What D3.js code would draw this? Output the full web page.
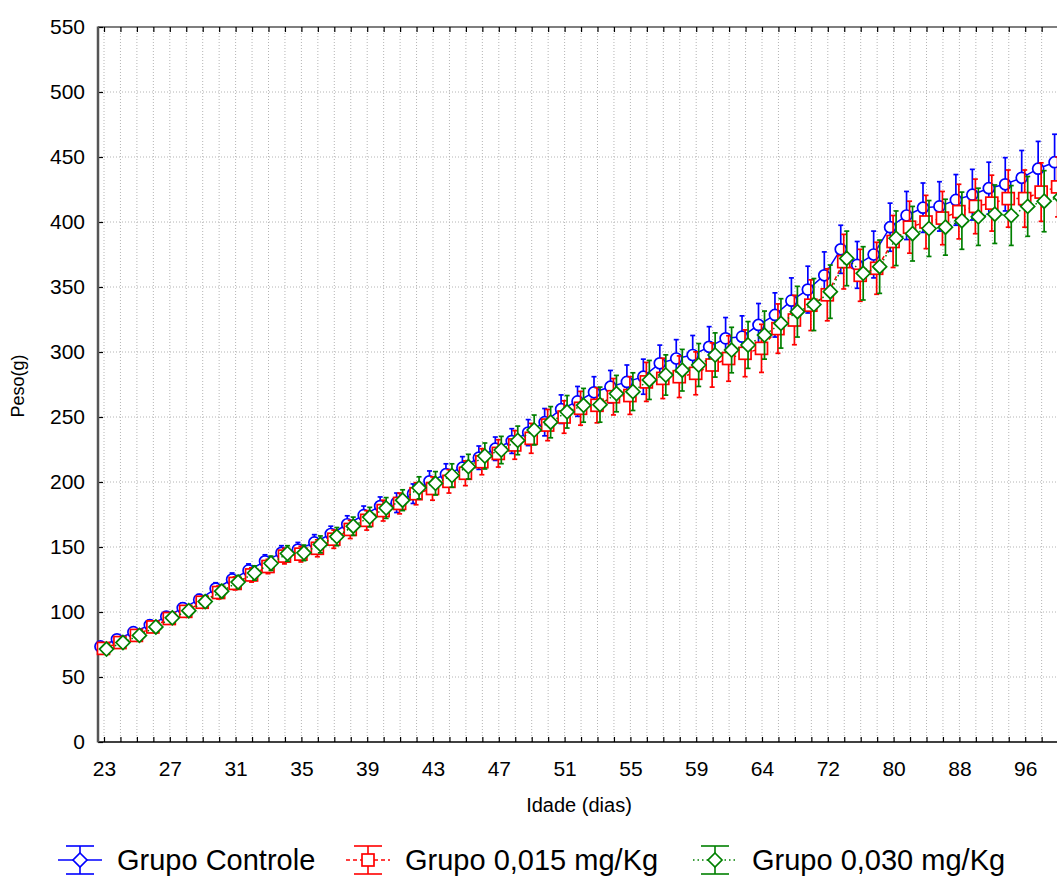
<!DOCTYPE html>
<html>
<head>
<meta charset="utf-8">
<script src="https://cdn.jsdelivr.net/npm/d3@7"></script>
<style>
  body { margin: 0; background: #fff; overflow: hidden; }
  svg { font-family: "Liberation Sans", Arial, sans-serif; }
  .grid line { stroke: #b4b4b4; stroke-width: 1; stroke-dasharray: 1,2; }
  .axis path { display: none; }
  .axis line { stroke: #000; stroke-width: 1.2; }
  .axis text { font-size: 21px; fill: #000; }
</style>
</head>
<body>
<svg id="chart" width="1057" height="879"></svg>
<script>
// idade (dias) - categorias do eixo x
var dias = [23, 24, 25, 26, 27, 28, 29, 30, 31, 32, 33, 34, 35, 36, 37, 38, 39, 40, 41, 42,
  43, 44, 45, 46, 47, 48, 49, 50, 51, 52, 53, 54, 55, 56, 57, 58, 59, 60, 61, 62,
  64, 66, 68, 70, 72, 74, 76, 78, 80, 82, 84, 86, 88, 90, 92, 94, 96, 98, 100];

// medias de peso (g)
var controle = [73.5, 79, 84.5, 90, 96.5, 103, 109.5, 118, 125, 132, 139, 145.5, 148, 153.5, 160, 167.5, 174.5, 181.5, 184, 191,
  200.5, 206, 211, 218.7, 225.6, 231.5, 238, 246, 256, 262, 269, 273.3, 277, 281, 291.3, 295, 297.7, 304, 310.5, 311.8,
  320.8, 328.5, 339.5, 348, 359, 379, 367, 375, 396, 405, 411, 412, 417, 421, 426, 429, 434, 441, 446];
var grupo015 = [72, 76.5, 82, 88.5, 95, 100.5, 107.5, 115, 122, 128.5, 135, 143, 144.5, 149, 156, 163.5, 170.5, 178, 183.5, 191,
  195, 200.5, 206.7, 215.6, 222, 228.5, 233.6, 243.8, 250, 256.7, 259, 265.6, 266.5, 277, 279.7, 281, 283.6, 290, 295, 299,
  302.8, 318, 324.6, 336, 344, 369.5, 359, 364.4, 385, 396, 400, 403, 408, 412, 414.5, 418, 418, 423, 427];
var grupo030 = [71.5, 76.5, 82, 88.5, 95.5, 101, 108, 116, 123, 130, 137.5, 145, 145.5, 152, 158, 166, 173, 180, 186, 195.5,
  199, 205, 211.8, 220, 224.6, 232, 240, 246, 254, 259, 259.5, 268, 269.5, 278.5, 282.3, 286, 290, 297.7, 301.5, 305.4,
  313, 322, 331, 336.5, 346.4, 372, 360.5, 365.6, 387.5, 391, 395, 396, 401, 404, 406, 405, 412, 416, 419];

// desvios (g)
var erroControle = [3, 3, 3, 3.5, 3.5, 4, 4, 4.5, 5, 5, 5, 5.5, 5.5, 6, 6, 6.5, 7, 7, 7.5, 7.5,
  8, 8, 8.5, 9, 9, 9.5, 10, 10.5, 11, 11.5, 12, 12.5, 13, 13.5, 14, 14.5, 15, 15.5, 16, 16,
  16.5, 17, 17.5, 18, 18, 18.5, 18, 18, 18.5, 18.5, 19, 19, 19.5, 19.5, 20, 20.5, 21, 21, 21.5];
var erro015 = [3, 3, 3.5, 3.5, 4, 4, 4.5, 5, 5, 5.5, 5.5, 6, 6, 6.5, 7, 7, 7.5, 8, 8, 8.5,
  9, 9, 9.5, 10, 10.5, 11, 11.5, 12, 12.5, 13, 13.5, 14, 14.5, 15, 15.5, 16, 16.5, 17, 17.5, 18,
  18.5, 19, 19, 19.5, 20, 21, 20, 20, 20, 20, 20.5, 20.5, 21, 21, 21.5, 22, 22, 22.5, 23];
var erro030 = [3, 3, 3.5, 3.5, 4, 4, 4.5, 5, 5, 5.5, 5.5, 6, 6, 6.5, 7, 7, 7.5, 8, 8, 8.5,
  9, 9, 9.5, 10, 10.5, 11, 11.5, 12, 12.5, 13, 13.5, 14, 14.5, 15, 15.5, 16, 16.5, 17, 17.5, 18,
  18.5, 19, 19.5, 20, 20.5, 21, 20.5, 20.5, 21, 21, 21.5, 21.5, 22, 22, 22.5, 23, 23, 23.5, 24];

var yTicks = [0, 50, 100, 150, 200, 250, 300, 350, 400, 450, 500, 550];

var series = [
  {nome: "Grupo Controle", media: controle, erro: erroControle, cor: "#0000ff", dash: null, marca: "circle", dx: -3.5},
  {nome: "Grupo 0,015 mg/Kg", media: grupo015, erro: erro015, cor: "#ff0000", dash: "4,3", marca: "square", dx: -0.5},
  {nome: "Grupo 0,030 mg/Kg", media: grupo030, erro: erro030, cor: "#008000", dash: "1.5,3", marca: "diamond", dx: 2.5}
];

// - dimensoes

var plotLeft = 98, plotTop = 27, plotBottom = 742, plotRight = 1064;
var step = 16.45;

var svg = d3.select("#chart");

var x = d3.scalePoint()
  .domain(dias)
  .range([104, 104 + step * (dias.length - 1)]);

var y = d3.scaleLinear()
  .domain([0, 550])
  .range([plotBottom, plotTop]);

// - grade

svg.append("g").attr("class", "grid")
  .selectAll("line").data(dias).enter().append("line")
  .attr("x1", function(d){return x(d);}).attr("x2", function(d){return x(d);})
  .attr("y1", plotTop).attr("y2", plotBottom);

svg.append("g").attr("class", "grid")
  .selectAll("line").data(yTicks.slice(1, -1)).enter().append("line")
  .attr("x1", plotLeft).attr("x2", plotRight)
  .attr("y1", function(d){return y(d);}).attr("y2", function(d){return y(d);});

// - eixos

svg.append("g").attr("class", "axis")
  .attr("transform", "translate(0," + plotBottom + ")")
  .call(d3.axisBottom(x).tickSizeInner(-5).tickSizeOuter(0).tickPadding(19)
    .tickFormat(function(d, i){return i % 4 === 0 ? d : "";}));

svg.append("g").attr("class", "axis")
  .attr("transform", "translate(0," + plotTop + ")")
  .call(d3.axisTop(x).tickSizeInner(-5).tickSizeOuter(0).tickFormat(""));

svg.append("g").attr("class", "axis")
  .attr("transform", "translate(" + plotLeft + ",0)")
  .call(d3.axisLeft(y).tickValues(yTicks).tickSizeInner(-5).tickSizeOuter(0).tickPadding(13));

svg.append("line").attr("x1", plotLeft).attr("x2", plotRight).attr("y1", plotBottom).attr("y2", plotBottom)
  .attr("stroke", "#000").attr("stroke-width", 1.5);
svg.append("line").attr("x1", plotLeft).attr("x2", plotRight).attr("y1", plotTop).attr("y2", plotTop)
  .attr("stroke", "#000").attr("stroke-width", 1.2);
svg.append("line").attr("x1", plotLeft).attr("x2", plotLeft).attr("y1", plotTop - 0.5).attr("y2", plotBottom + 0.5)
  .attr("stroke", "#555").attr("stroke-width", 2.5);

// - titulos

svg.append("text").attr("x", 579).attr("y", 812).attr("text-anchor", "middle")
  .style("font-size", "20px").text("Idade (dias)");

svg.append("text").attr("transform", "translate(24,386) rotate(-90)").attr("text-anchor", "middle")
  .style("font-size", "18px").text("Peso(g)");

// - marcadores

function marca(g, tipo, cor, escala) {
  var s = escala || 1;
  if (tipo === "circle") {
    g.append("circle").attr("r", 5.5 * s);
  } else if (tipo === "square") {
    g.append("rect").attr("x", -6 * s).attr("y", -6 * s).attr("width", 12 * s).attr("height", 12 * s);
  } else {
    var r = 7 * s;
    g.append("path").attr("d", "M0," + (-r) + "L" + r + ",0L0," + r + "L" + (-r) + ",0Z");
  }
  g.selectAll("circle,rect,path").attr("fill", "#fff").attr("stroke", cor).attr("stroke-width", 1.7);
}

// - series

var linha = d3.line()
  .x(function(d){return d.x;})
  .y(function(d){return y(d.v);});

series.forEach(function(s) {
  var pts = dias.map(function(d, i){return {x: x(d) + s.dx, v: s.media[i], e: s.erro[i]};});
  var g = svg.append("g");

  g.append("path").datum(pts)
    .attr("d", linha)
    .attr("fill", "none")
    .attr("stroke", s.cor)
    .attr("stroke-width", 1.5)
    .attr("stroke-dasharray", s.dash);

  var eb = g.selectAll(".eb").data(pts).enter().append("g");
  eb.append("line")
    .attr("x1", function(d){return d.x;}).attr("x2", function(d){return d.x;})
    .attr("y1", function(d){return y(d.v + d.e);}).attr("y2", function(d){return y(d.v - d.e);});
  eb.append("line")
    .attr("x1", function(d){return d.x - 2.5;}).attr("x2", function(d){return d.x + 2.5;})
    .attr("y1", function(d){return y(d.v + d.e);}).attr("y2", function(d){return y(d.v + d.e);});
  eb.append("line")
    .attr("x1", function(d){return d.x - 2.5;}).attr("x2", function(d){return d.x + 2.5;})
    .attr("y1", function(d){return y(d.v - d.e);}).attr("y2", function(d){return y(d.v - d.e);});
  eb.selectAll("line").attr("stroke", s.cor).attr("stroke-width", 1.7);

  g.selectAll(".mk").data(pts).enter().append("g")
    .attr("transform", function(d){return "translate(" + d.x + "," + y(d.v) + ")";})
    .each(function(){ marca(d3.select(this), s.marca, s.cor); });
});

// - legenda

var legX = [80, 368, 715];
var legenda = svg.append("g").selectAll("g").data(series).enter().append("g")
  .attr("transform", function(d, i){return "translate(" + legX[i] + ",860)";});

legenda.each(function(s) {
  var g = d3.select(this);
  g.append("line").attr("x1", -22).attr("x2", 22).attr("y1", 0).attr("y2", 0)
    .attr("stroke", s.cor).attr("stroke-width", 1.6).attr("stroke-dasharray", s.dash);
  g.append("line").attr("x1", 0).attr("x2", 0).attr("y1", -14).attr("y2", 14)
    .attr("stroke", s.cor).attr("stroke-width", 1.6);
  g.append("line").attr("x1", -14).attr("x2", 14).attr("y1", -14).attr("y2", -14)
    .attr("stroke", s.cor).attr("stroke-width", 1.6);
  g.append("line").attr("x1", -14).attr("x2", 14).attr("y1", 14).attr("y2", 14)
    .attr("stroke", s.cor).attr("stroke-width", 1.6);
  var m = g.append("g");
  marca(m, s.marca === "circle" ? "diamond" : s.marca, s.cor, 1);
  g.append("text").attr("x", 37).attr("y", 10)
    .style("font-size", "29px").text(s.nome);
});
</script>
</body>
</html>
